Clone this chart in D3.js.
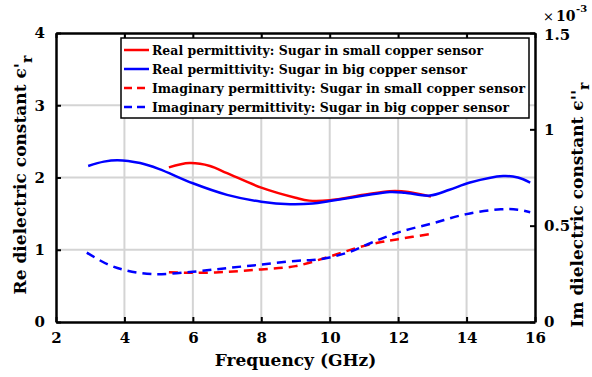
<!DOCTYPE html>
<html>
<head>
<meta charset="utf-8">
<script src="https://cdn.jsdelivr.net/npm/d3@7"></script>
<style>
body { margin: 0; background: #fff; }
text { font-family: "DejaVu Serif", serif; font-weight: bold; }
</style>
</head>
<body>
<div id="vis"></div>
<script>
// values
const realBigF = [2.94, 3.4, 3.8, 4.46, 5, 6, 7, 8, 8.84, 9.5, 10, 11, 11.76, 12.2, 12.93, 13.5, 14.1, 15.07, 15.5, 15.86];
const realBigV = [2.16, 2.22, 2.24, 2.2, 2.12, 1.92, 1.76, 1.665, 1.63, 1.64, 1.675, 1.75, 1.80, 1.79, 1.75, 1.83, 1.93, 2.02, 2.0, 1.93];
const realSmallF = [5.3, 5.9, 6.5, 7, 8, 9, 9.4, 10, 11, 11.76, 12.3, 12.96];
const realSmallV = [2.14, 2.2, 2.16, 2.06, 1.86, 1.72, 1.68, 1.685, 1.76, 1.81, 1.80, 1.735];
const imBigF = [2.9, 3.5, 4, 4.85, 6, 7, 8, 9, 9.5, 10, 10.6, 11.2, 12, 13, 14, 15, 15.5, 15.86];
const imBigV = [0.36, 0.30, 0.27, 0.248, 0.261, 0.28, 0.298, 0.317, 0.322, 0.335, 0.365, 0.41, 0.465, 0.512, 0.56, 0.585, 0.583, 0.57];
const imSmallF = [5.3, 6, 7, 8, 9, 10, 10.8, 11.5, 12, 12.95];
const imSmallV = [0.258, 0.255, 0.26, 0.273, 0.29, 0.34, 0.385, 0.415, 0.43, 0.457];

const xTicks = [2, 4, 6, 8, 10, 12, 14, 16];
const yLeftTicks = [0, 1, 2, 3, 4];
const yRightTicks = [0, 0.5, 1, 1.5];

const legendLabels = [
  "Real permittivity: Sugar in small copper sensor",
  "Real permittivity: Sugar in big copper sensor",
  "Imaginary permittivity: Sugar in small copper sensor",
  "Imaginary permittivity: Sugar in big copper sensor"
];

const W = 592, H = 377;
const M = {left: 56, right: 57, top: 33, bottom: 55};

const svg = d3.select("#vis").append("svg")
  .attr("width", W).attr("height", H);

const x = d3.scaleLinear().domain([2, 16]).range([M.left, W - M.right]);
const yL = d3.scaleLinear().domain([0, 4]).range([H - M.bottom, M.top]);
const yR = d3.scaleLinear().domain([0, 1.5]).range([H - M.bottom, M.top]);

// grid
svg.append("g").selectAll("line").data(xTicks.slice(1, -1)).enter().append("line")
  .attr("x1", d => x(d)).attr("x2", d => x(d))
  .attr("y1", yL(0)).attr("y2", yL(4))
  .attr("stroke", "#d4d4d4").attr("stroke-width", 2);
svg.append("g").selectAll("line").data(yLeftTicks.slice(1, -1)).enter().append("line")
  .attr("y1", d => yL(d)).attr("y2", d => yL(d))
  .attr("x1", x(2)).attr("x2", x(16))
  .attr("stroke", "#d4d4d4").attr("stroke-width", 2);

// series
function drawLine(fs, vs, y, color, dash) {
  const pts = fs.map((f, i) => [f, vs[i]]);
  const line = d3.line().x(d => x(d[0])).y(d => y(d[1])).curve(d3.curveCatmullRom);
  svg.append("path").datum(pts)
    .attr("d", line)
    .attr("fill", "none")
    .attr("stroke", color)
    .attr("stroke-width", 2.5)
    .attr("stroke-dasharray", dash ? "9,6" : null);
}
drawLine(realSmallF, realSmallV, yL, "#ff0000", false);
drawLine(realBigF, realBigV, yL, "#0000ff", false);
drawLine(imSmallF, imSmallV, yR, "#ff0000", true);
drawLine(imBigF, imBigV, yR, "#0000ff", true);

// axes
const tickFont = "15px";
const fmt = d3.format("~g");
const xAxisB = d3.axisBottom(x).tickValues(xTicks).tickFormat(fmt).tickSizeInner(-5).tickSizeOuter(0).tickPadding(10);
const xAxisT = d3.axisTop(x).tickValues(xTicks).tickSizeInner(-5).tickSizeOuter(0).tickFormat("");
const yAxisL = d3.axisLeft(yL).tickValues(yLeftTicks).tickFormat(fmt).tickSizeInner(-5).tickSizeOuter(0).tickPadding(11);
const yAxisR = d3.axisRight(yR).tickValues(yRightTicks).tickFormat(fmt).tickSizeInner(-5).tickSizeOuter(0).tickPadding(9);

function styleAxis(g) {
  g.select(".domain").attr("stroke", "#000").attr("stroke-width", 2.5);
  g.selectAll(".tick line").attr("stroke", "#000").attr("stroke-width", 2);
  g.selectAll(".tick text").attr("fill", "#000").style("font-size", tickFont)
    .style("font-family", "'DejaVu Serif', serif").style("font-weight", "bold");
}
svg.append("g").attr("transform", `translate(0,${H - M.bottom})`).call(xAxisB).call(styleAxis);
svg.append("g").attr("transform", `translate(0,${M.top})`).call(xAxisT).call(styleAxis);
svg.append("g").attr("transform", `translate(${M.left},0)`).call(yAxisL).call(styleAxis);
const gR = svg.append("g").attr("transform", `translate(${W - M.right},0)`).call(yAxisR).call(styleAxis);
gR.selectAll(".tick").filter(d => d === 1.5).select("text").attr("dy", "0.45em");

// exponent label
svg.append("text").attr("x", 543).attr("y", 21).style("font-size", "13px")
  .style("font-weight", "normal").text("×");
svg.append("text").attr("x", 556).attr("y", 21).style("font-size", "14px").text("10");
svg.append("text").attr("x", 576).attr("y", 12).style("font-size", "10px").text("-3");

// axis titles
svg.append("text").attr("x", (x(2) + x(16)) / 2).attr("y", 366)
  .attr("text-anchor", "middle").style("font-size", "17px").text("Frequency (GHz)");

const lt = svg.append("text").attr("transform", "translate(26,175) rotate(-90)")
  .attr("text-anchor", "middle").style("font-size", "17px");
lt.append("tspan").text("Re dielectric constant ϵ'");
lt.append("tspan").attr("dy", 6).style("font-size", "14px").text("r");

const rt = svg.append("text").attr("transform", "translate(583,205) rotate(-90)")
  .attr("text-anchor", "middle").style("font-size", "17px");
rt.append("tspan").text("Im dielectric constant ϵ''");
rt.append("tspan").attr("dy", 6).style("font-size", "14px").text("r");

// legend
const lg = svg.append("g");
lg.append("rect").attr("x", 121).attr("y", 38).attr("width", 408).attr("height", 80)
  .attr("fill", "#fff").attr("stroke", "#000").attr("stroke-width", 1.5);
const lColors = ["#ff0000", "#0000ff", "#ff0000", "#0000ff"];
const lDash = [false, false, true, true];
const lWidths = [331, 315, 373, 357];
legendLabels.forEach((t, i) => {
  const yy = 50 + i * 19;
  lg.append("line").attr("x1", 124).attr("x2", 149).attr("y1", yy).attr("y2", yy)
    .attr("stroke", lColors[i]).attr("stroke-width", 2.5)
    .attr("stroke-dasharray", lDash[i] ? "8,5" : null);
  lg.append("text").attr("x", 152).attr("y", yy + 5)
    .style("font-size", "13px").attr("textLength", lWidths[i]).attr("lengthAdjust", "spacingAndGlyphs")
    .text(t);
});
</script>
</body>
</html>
